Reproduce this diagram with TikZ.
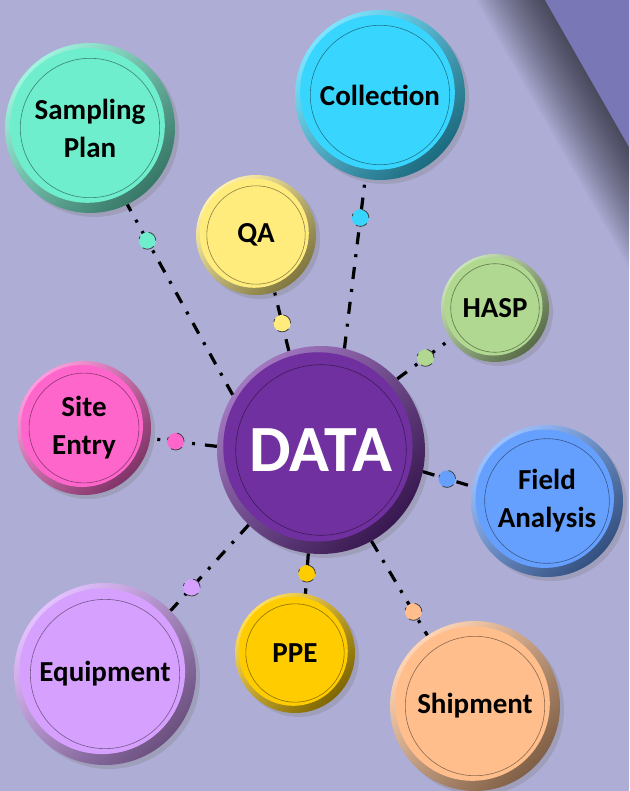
\documentclass[tikz,border=0pt]{standalone}
\usepackage{fontspec}
\setmainfont{Carlito}
\usetikzlibrary{shadows}

\definecolor{bgcol}{RGB}{173,173,214}
\definecolor{flapcol}{RGB}{121,119,181}
\definecolor{sampcol}{RGB}{110,238,205}
\definecolor{collcol}{RGB}{56,214,255}
\definecolor{qacol}{RGB}{255,236,125}
\definecolor{haspcol}{RGB}{176,216,144}
\definecolor{datacol}{RGB}{112,48,160}
\definecolor{sitecol}{RGB}{255,102,204}
\definecolor{fieldcol}{RGB}{102,160,255}
\definecolor{equipcol}{RGB}{214,160,255}
\definecolor{ppecol}{RGB}{255,204,0}
\definecolor{shipcol}{RGB}{255,190,140}

\begin{document}
\begin{tikzpicture}[x=1pt, y=-1pt,
    bubble/.style 2 args={circle, minimum size=#2, inner sep=0pt, align=center,
      font=\fontsize{29}{38}\selectfont\bfseries, text=black,
      top color=#1!65!white, bottom color=#1!50!black, shading angle=45,
      drop shadow={shadow xshift=4pt, shadow yshift=-4pt, opacity=0.3},
      path picture={
        \fill[#1] ([xshift=-0.015*#2, yshift=0.015*#2]path picture bounding box.center) circle[radius=0.455*#2];
        \draw[#1!55!black, line width=0.6pt] (path picture bounding box.center) circle[radius=0.41*#2];}},
    link/.style={line width=3.2pt, dash pattern=on 12pt off 10pt on 3pt off 10pt},
    knob/.style={circle, draw=black!75, line width=0.8pt, fill=#1, minimum size=17pt, inner sep=0pt}]

  % background and folded corner
  \fill[bgcol] (0,0) rectangle (629,791);
  \useasboundingbox (0,0) rectangle (629,791);
  \foreach \d in {2,4,...,60}
    \fill[black, opacity=0.025] (545-1.151*\d,0) -- (629,0) -- (629,147+2.015*\d) -- cycle;
  \fill[flapcol] (545,0) -- (629,0) -- (629,147) -- cycle;

  % buttons
  \node[bubble={datacol}{208pt}, text=white, font=\fontsize{66}{66}\selectfont\bfseries] (data) at (321,450) {DATA};
  \node[bubble={sampcol}{170pt}] (samp) at (90,128) {Sampling\\Plan};
  \node[bubble={collcol}{170pt}] (coll) at (380,95) {Collection};
  \node[bubble={qacol}{120pt}] (qa) at (256,235) {QA};
  \node[bubble={haspcol}{108pt}] (hasp) at (495,308) {HASP};
  \node[bubble={sitecol}{134pt}] (site) at (84,428) {Site\\Entry};
  \node[bubble={fieldcol}{152pt}] (field) at (547,501) {Field\\Analysis};
  \node[bubble={equipcol}{182pt}] (equip) at (105,674) {Equipment};
  \node[bubble={ppecol}{120pt}] (ppe) at (295,653) {PPE};
  \node[bubble={shipcol}{170pt}] (ship) at (475,706) {Shipment};

  % links
  \draw[link] (data.148) -- (samp.-64) node[knob=sampcol, pos=0.81] (k-samp) {};
  \draw[link] (data.77) -- (coll.-100) node[knob=collcol, pos=0.77] (k-coll) {};
  \draw[link] (data.108) -- (qa.-72) node[knob=qacol, pos=0.47] (k-qa) {};
  \draw[link] (data.43) -- (hasp.215) node[knob=haspcol, pos=0.53] (k-hasp) {};
  \draw[link] (data.178) -- (site.-9) node[knob=sitecol, pos=0.62] (k-site) {};
  \draw[link] (data.-12) -- (field.169) node[knob=fieldcol, pos=0.49] (k-field) {};
  \draw[link] (data.226) -- (equip.44) node[knob=equipcol, pos=0.73] (k-equip) {};
  \draw[link] (data.263) -- (ppe.80) node[knob=ppecol, pos=0.5] (k-ppe) {};
  \draw[link] (data.-61) -- (ship.124) node[knob=shipcol, pos=0.75] (k-ship) {};
\end{tikzpicture}
\end{document}
